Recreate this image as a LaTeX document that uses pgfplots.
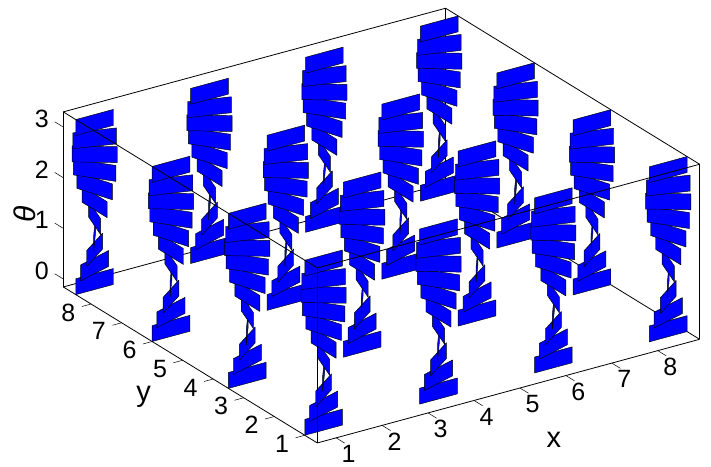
\documentclass[border=0pt]{standalone}
\usepackage{fontspec}
\setmainfont{Liberation Sans}
\usepackage{pgfplots}
\pgfplotsset{compat=1.18}
\usepackage{pgfplotstable}

% one twisted ribbon: end offsets of each plate from the ribbon axis
\pgfplotstableread{
dx dy z
-0.410 0.000 2.985
0.410 0.000 2.985
0.410 0.000 3.299
-0.410 0.000 3.299
-0.390 0.127 2.670
0.390 -0.127 2.670
0.390 -0.127 2.985
-0.390 0.127 2.985
-0.332 0.241 2.356
0.332 -0.241 2.356
0.332 -0.241 2.670
-0.332 0.241 2.670
-0.241 0.332 2.042
0.241 -0.332 2.042
0.241 -0.332 2.356
-0.241 0.332 2.356
-0.127 0.390 1.728
0.127 -0.390 1.728
0.127 -0.390 2.042
-0.127 0.390 2.042
0.000 0.410 1.414
0.000 -0.410 1.414
0.000 -0.410 1.728
0.000 0.410 1.728
0.127 0.390 1.100
-0.127 -0.390 1.100
-0.127 -0.390 1.414
0.127 0.390 1.414
0.241 0.332 0.785
-0.241 -0.332 0.785
-0.241 -0.332 1.100
0.241 0.332 1.100
0.332 0.241 0.471
-0.332 -0.241 0.471
-0.332 -0.241 0.785
0.332 0.241 0.785
0.390 0.127 0.157
-0.390 -0.127 0.157
-0.390 -0.127 0.471
0.390 0.127 0.471
0.410 0.000 -0.157
-0.410 0.000 -0.157
-0.410 0.000 0.157
0.410 0.000 0.157
}\ribbon

\begin{document}
\begin{tikzpicture}
\useasboundingbox (0,0) rectangle (711pt,466pt);
\begin{axis}[
  at={(317.3pt,31pt)},anchor=origin,
  x={(45.95pt,12.46pt)},y={(-30.53pt,18.75pt)},z={(0pt,50.65pt)},
  xmin=0.59,xmax=8.91,ymin=0.59,ymax=8.91,zmin=-0.157,zmax=3.299,
  clip=false,
  xtick={1,...,8},ytick={1,...,8},ztick={0,1,2,3},
  xtick pos=left,ytick pos=left,ztick pos=right,
  zticklabel pos=left,
  tick align=outside,major tick length=10pt,
  tick style={draw=none},
  axis line style={line width=0.8pt},
  tick label style={font=\fontsize{25}{25}\selectfont,anchor=center},
  xticklabel style={xshift=4pt,yshift=-11pt},
  yticklabel style={xshift=-13pt,yshift=-6pt},
  zticklabel style={xshift=-13pt,yshift=3pt},
  /pgf/number format/assume math mode=true,
  xlabel={x},ylabel={y},zlabel={\fontsize{30}{30}\selectfont\textit{θ}},
  label style={font=\fontsize{29}{29}\selectfont},
  xlabel style={at={(axis cs:5,0.59,-0.157)},anchor=center,rotate=0,xshift=34pt,yshift=-52pt},
  ylabel style={at={(axis cs:0.59,5,-0.157)},anchor=center,rotate=0,xshift=-39pt,yshift=-37pt},
  zlabel style={at={(axis cs:0.59,8.91,1.5)},anchor=center,rotate=0,xshift=-11pt,yshift=39pt},
  colormap={allblue}{color=(blue) color=(blue)},
]
\pgfplotsforeachungrouped \cx in {8.5,6,3.5,1}{
  \pgfplotsforeachungrouped \cy in {8.5,6,3.5,1}{
    \addplot3[patch,patch type=rectangle,shader=faceted,faceted color=black,line width=0.45pt]
      table[x expr=\thisrow{dx}+\cx,y expr=\thisrow{dy}+\cy,z=z]{\ribbon};
  }
}
% near edges of the box go over the ribbons
\draw[line width=0.8pt] (axis cs:0.59,8.91,3.299) -- (axis cs:0.59,0.59,3.299) -- (axis cs:8.91,0.59,3.299);
\draw[line width=0.8pt] (axis cs:0.59,0.59,3.299) -- (axis cs:0.59,0.59,-0.157);
% ticks run along the other axis, as pgfplots would add stubs on every edge
\pgfplotsinvokeforeach{1,...,8}{
  \draw[line width=0.5pt] (axis cs:#1,0.59,-0.157) -- (axis cs:#1,0.31,-0.157);
  \draw[line width=0.5pt] (axis cs:0.59,#1,-0.157) -- (axis cs:0.39,#1,-0.157);
}
\pgfplotsinvokeforeach{0,...,3}{
  \draw[line width=0.5pt] (axis cs:0.59,8.91,#1) -- (axis cs:0.59,9.19,#1);
}
\end{axis}
\end{tikzpicture}
\end{document}
